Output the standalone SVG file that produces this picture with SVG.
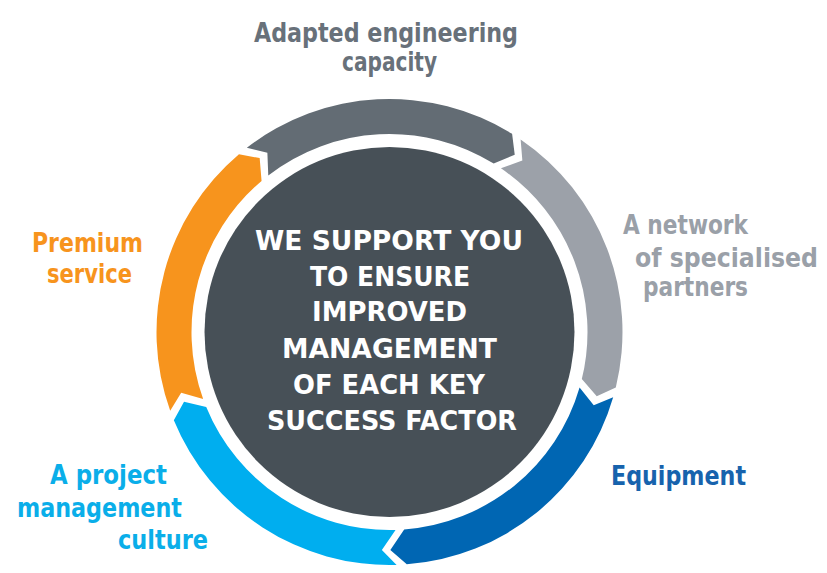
<svg xmlns="http://www.w3.org/2000/svg" width="827" height="573" viewBox="0 0 827 573">
  <style>
    .lbl { font-family: "DejaVu Sans Condensed", "DejaVu Sans", sans-serif; font-stretch: condensed; font-weight: bold; font-size: 27px; }
    .ctr { font-family: "DejaVu Sans", sans-serif; font-weight: bold; font-size: 26px; fill: #ffffff; }
  </style>
  <rect width="827" height="573" fill="#ffffff"/>
  <g id="node-engineering">
    <path d="M246.86,147.77 A233,233 0 0 1 512.10,133.86 L514.73,154.80 L493.69,163.62 A198,198 0 0 0 268.28,175.44 L267.37,152.63 Z" fill="#636c74"/>
    <text class="lbl" fill="#68717a" x="254" y="42" textLength="264" lengthAdjust="spacingAndGlyphs">Adapted engineering</text>
    <text class="lbl" fill="#68717a" x="342" y="71" textLength="95" lengthAdjust="spacingAndGlyphs">capacity</text>
  </g>
  <g id="node-network">
    <path d="M520.63,139.40 A233,233 0 0 1 615.81,387.38 L596.74,396.34 L581.82,379.06 A198,198 0 0 0 500.93,168.33 L522.35,160.42 Z" fill="#9ca1a9"/>
    <text class="lbl" fill="#9aa0a8" x="623" y="234" textLength="125" lengthAdjust="spacingAndGlyphs">A network</text>
    <text class="lbl" fill="#9aa0a8" x="635" y="267" textLength="183" lengthAdjust="spacingAndGlyphs">of specialised</text>
    <text class="lbl" fill="#9aa0a8" x="643" y="296" textLength="105" lengthAdjust="spacingAndGlyphs">partners</text>
  </g>
  <g id="node-equipment">
    <path d="M613.18,397.19 A233,233 0 0 1 406.77,564.37 L390.34,549.98 L404.17,529.47 A198,198 0 0 0 579.58,387.40 L593.74,405.32 Z" fill="#0066b3"/>
    <text class="lbl" fill="#1763ad" x="611" y="485" textLength="135" lengthAdjust="spacingAndGlyphs">Equipment</text>
  </g>
  <g id="node-project">
    <path d="M396.61,564.89 A233,233 0 0 1 173.84,420.21 L184.02,401.74 L206.23,406.96 A198,198 0 0 0 395.54,529.90 L381.87,549.89 Z" fill="#00aeef"/>
    <text class="lbl" fill="#0aaee9" x="50" y="484" textLength="117" lengthAdjust="spacingAndGlyphs">A project</text>
    <text class="lbl" fill="#0aaee9" x="17" y="517" textLength="165" lengthAdjust="spacingAndGlyphs">management</text>
    <text class="lbl" fill="#0aaee9" x="118" y="549" textLength="90" lengthAdjust="spacingAndGlyphs">culture</text>
  </g>
  <g id="node-premium">
    <path d="M170.20,410.73 A233,233 0 0 1 238.96,154.17 L259.67,158.12 L261.57,180.89 A198,198 0 0 0 203.14,398.90 L181.18,392.72 Z" fill="#f7941d"/>
    <text class="lbl" fill="#f7941d" x="32" y="252" textLength="111" lengthAdjust="spacingAndGlyphs">Premium</text>
    <text class="lbl" fill="#f7941d" x="47" y="283" textLength="85" lengthAdjust="spacingAndGlyphs">service</text>
  </g>
  <g id="node-center">
    <circle cx="389.5" cy="332" r="185" fill="#475057"/>
    <text class="ctr" x="255" y="250" textLength="268" lengthAdjust="spacingAndGlyphs">WE SUPPORT YOU</text>
    <text class="ctr" x="310" y="286" textLength="160" lengthAdjust="spacingAndGlyphs">TO ENSURE</text>
    <text class="ctr" x="312" y="321" textLength="155" lengthAdjust="spacingAndGlyphs">IMPROVED</text>
    <text class="ctr" x="282" y="358" textLength="215" lengthAdjust="spacingAndGlyphs">MANAGEMENT</text>
    <text class="ctr" x="293" y="394" textLength="192" lengthAdjust="spacingAndGlyphs">OF EACH KEY</text>
    <text class="ctr" x="267" y="430" textLength="250" lengthAdjust="spacingAndGlyphs">SUCCESS FACTOR</text>
  </g>
</svg>
